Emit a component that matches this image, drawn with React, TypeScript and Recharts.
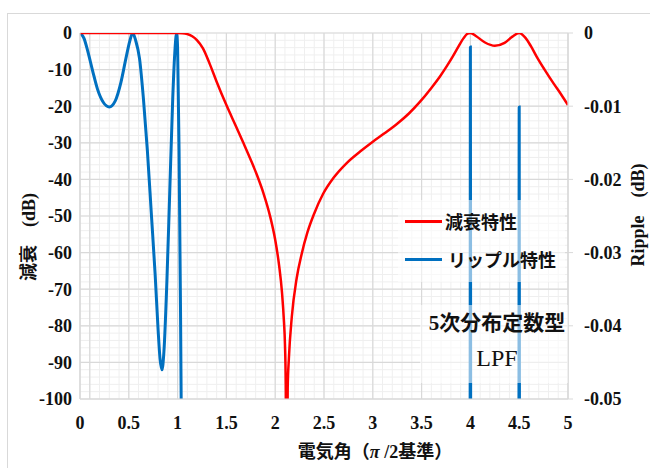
import React from 'react';
import { LineChart, Line, XAxis, YAxis, CartesianGrid } from 'recharts';

// 減衰特性 (left axis, dB)
const attenX = [
  0, 0.5, 1.0, 1.05, 1.1, 1.15, 1.2, 1.26, 1.33, 1.4, 1.5, 1.6, 1.67, 1.75, 1.81, 1.88, 1.95, 2.0,
  2.04, 2.07, 2.09, 2.1, 2.108, 2.118, 2.128, 2.14, 2.17, 2.22, 2.27, 2.33, 2.4, 2.49, 2.6, 2.73,
  2.87, 3.0, 3.12, 3.25, 3.37, 3.48, 3.6, 3.69, 3.76, 3.82, 3.88, 3.93, 3.97, 4.0, 4.06, 4.15, 4.25,
  4.35, 4.43, 4.5, 4.56, 4.62, 4.68, 4.76, 4.85, 4.93, 5.0,
];
const attenDb = [
  0, 0, 0, -0.05, -0.3, -0.9, -2.0, -4.2, -8.5, -13.3, -19.7, -25.6, -29.8, -34.7, -38.6, -43.8, -50.3, -56.5,
  -63.5, -71, -79, -85, -96, -140, -97, -89, -77.6, -67, -60.5, -54.5, -49.3, -44, -39.5, -35.6,
  -32.4, -29.7, -27.4, -24.8, -22, -18.9, -15, -11.8, -9, -6.4, -3.6, -1.4, -0.2, 0, -0.9, -2.6, -3.5,
  -2.7, -1.0, 0, -1.2, -3.6, -6.5, -10, -13.7, -16.8, -19.7,
];

// リップル特性 (right axis, dB)
const rippleX = [
  0, 0.04, 0.08, 0.13, 0.18, 0.24, 0.3, 0.36, 0.42, 0.47, 0.51, 0.54, 0.57, 0.61, 0.65, 0.69, 0.73,
  0.77, 0.8, 0.82, 0.84, 0.86, 0.89, 0.92, 0.95, 0.97, 0.99, 1.0, 1.015, 1.03, 1.05, 1.08, 1.1,
  3.98, 3.997, 4.0, 4.003, 4.02, 4.48, 4.497, 4.5, 4.503, 4.52, 5.0,
];
const rippleDb = [
  0, -0.0007, -0.0025, -0.0052, -0.0077, -0.0095, -0.0101, -0.0093, -0.0067, -0.0035, -0.0011, 0,
  -0.001, -0.0035, -0.009, -0.016, -0.0245, -0.033, -0.0405, -0.0445, -0.046, -0.0435, -0.034,
  -0.0215, -0.009, -0.003, 0, -0.002, -0.016, -0.038, -0.075, -0.15, -0.2,
  -0.2, -0.06, -0.0019, -0.06, -0.2, -0.2, -0.06, -0.0101, -0.06, -0.2, -0.2,
];

const xTicks = [0, 0.5, 1, 1.5, 2, 2.5, 3, 3.5, 4, 4.5, 5];
const leftTicks = [0, -10, -20, -30, -40, -50, -60, -70, -80, -90, -100];
const rightTicks = [0, -0.01, -0.02, -0.03, -0.04, -0.05];
const minorXTicks = Array.from({ length: 51 }, (_, i) => i / 10);
const minorYTicks = Array.from({ length: 51 }, (_, i) => -i * 2);
const majorXGrid = [0.1, ...xTicks];

const attenData = attenX.map((x, i) => ({ x, atten: attenDb[i] }));
const rippleData = rippleX.map((x, i) => ({ x, ripple: rippleDb[i] }));

const SERIF = "'Liberation Serif', 'Times New Roman', 'Noto Sans CJK JP', serif";
const JP = "'Noto Sans CJK JP', 'Liberation Serif', sans-serif";

const mapX = (vals: number[]) => ({ xAxis, offset }: any) =>
  vals.map((v) =>
    typeof xAxis?.scale === 'function' ? xAxis.scale(v) : offset.left + (v / 5) * offset.width
  );
const mapY = (vals: number[]) => ({ yAxis, offset }: any) =>
  vals.map((v) =>
    typeof yAxis?.scale === 'function' ? yAxis.scale(v) : offset.top + (-v / 100) * offset.height
  );

const LegendBox = () => (
  <div
    style={{
      position: 'absolute',
      left: 398,
      top: 200,
      width: 167,
      height: 82,
      background: 'rgba(255,255,255,0.55)',
      fontFamily: JP,
      fontWeight: 700,
      fontSize: 18,
      color: '#111',
    }}
  >
    <div style={{ position: 'absolute', left: 7, top: 20, width: 37, height: 2.5, background: '#ff0000' }} />
    <div style={{ position: 'absolute', left: 47, top: 8, lineHeight: '26px' }}>減衰特性</div>
    <div style={{ position: 'absolute', left: 7, top: 58, width: 37, height: 2.5, background: '#0070c0' }} />
    <div style={{ position: 'absolute', left: 50, top: 46, lineHeight: '26px' }}>リップル特性</div>
  </div>
);

export default function App() {
  return (
    <div style={{ position: 'absolute', left: 0, top: 0, width: 650, height: 468, overflow: 'hidden', background: '#fff' }}>
      <div
        style={{
          position: 'absolute',
          left: 7,
          top: 13,
          width: 700,
          height: 500,
          border: '1.5px solid #d9d9d9',
        }}
      />
      <div style={{ position: 'absolute', left: 0, top: 0 }}>
        <LineChart width={650} height={468} margin={{ top: 33, right: 0, bottom: 0, left: 0 }}>
          <CartesianGrid
            stroke="#efefef"
            strokeWidth={1}
            yAxisId="l"
            verticalCoordinatesGenerator={mapX(minorXTicks)}
            horizontalCoordinatesGenerator={mapY(minorYTicks)}
          />
          <CartesianGrid
            stroke="#d9d9d9"
            strokeWidth={1.2}
            yAxisId="l"
            verticalCoordinatesGenerator={mapX(majorXGrid)}
            horizontalCoordinatesGenerator={mapY(leftTicks)}
          />
          <XAxis
            dataKey="x"
            type="number"
            domain={[0, 5]}
            ticks={xTicks}
            allowDuplicatedCategory={false}
            height={69}
            tickLine={false}
            tickSize={6}
            tickMargin={11}
            axisLine={{ stroke: '#d9d9d9', strokeWidth: 1.2 }}
            tick={{ fill: '#111', fontFamily: SERIF, fontWeight: 700, fontSize: 18 }}
            allowDataOverflow
          />
          <YAxis
            yAxisId="l"
            domain={[-100, 0]}
            ticks={leftTicks}
            width={80}
            tickLine={false}
            axisLine={{ stroke: '#d9d9d9', strokeWidth: 1.2 }}
            tick={{ fill: '#111', fontFamily: SERIF, fontWeight: 700, fontSize: 18 }}
            allowDataOverflow
          />
          <YAxis
            yAxisId="r"
            orientation="right"
            domain={[-0.05, 0]}
            ticks={rightTicks}
            width={82}
            tickSize={5}
            tickMargin={11}
            tickLine={{ stroke: '#d9d9d9' }}
            axisLine={{ stroke: '#d9d9d9', strokeWidth: 1.2 }}
            tick={{ fill: '#111', fontFamily: SERIF, fontWeight: 700, fontSize: 18 }}
            allowDataOverflow
          />
          <Line
            yAxisId="r"
            data={rippleData}
            dataKey="ripple"
            name="リップル特性"
            type="monotone"
            stroke="#0070c0"
            strokeWidth={3}
            dot={false}
            isAnimationActive={false}
          />
          <Line
            yAxisId="l"
            data={attenData}
            dataKey="atten"
            name="減衰特性"
            type="monotone"
            stroke="#ff0000"
            strokeWidth={2.5}
            dot={false}
            isAnimationActive={false}
          />
        </LineChart>
      </div>
      <LegendBox />
      <div
        style={{
          position: 'absolute',
          left: 420,
          top: 305,
          width: 148,
          height: 78,
          background: 'rgba(255,255,255,0.55)',
          color: '#111',
          textAlign: 'center',
        }}
      >
        <div style={{ position: 'absolute', left: 0, right: 0, top: 7, fontFamily: SERIF, fontSize: 21, fontWeight: 700, lineHeight: '22px', paddingLeft: 6 }}>
          5次分布定数型
        </div>
        <div style={{ position: 'absolute', left: 0, right: 0, top: 39, fontFamily: SERIF, fontSize: 24, lineHeight: '28px', paddingLeft: 6 }}>
          LPF
        </div>
      </div>
      <svg width={650} height={468} style={{ position: 'absolute', left: 0, top: 0, pointerEvents: 'none' }}>
        <text x={375} y={458} textAnchor="middle" fontFamily={SERIF} fontWeight={700} fontSize={18} fill="#111">
          電気角（<tspan fontStyle="italic">π</tspan> /2基準）
        </text>
        <text
          x={29}
          y={237}
          transform="rotate(-90 29 237)"
          textAnchor="middle"
          dominantBaseline="central"
          fontFamily={SERIF}
          fontWeight={700}
          fontSize={18}
          fill="#111"
        >
          減衰　(dB)
        </text>
        <text
          x={638}
          y={215}
          transform="rotate(-90 638 215)"
          textAnchor="middle"
          dominantBaseline="central"
          fontFamily={SERIF}
          fontWeight={700}
          fontSize={18}
          fill="#111"
        >
          Ripple　(dB)
        </text>
      </svg>
    </div>
  );
}
